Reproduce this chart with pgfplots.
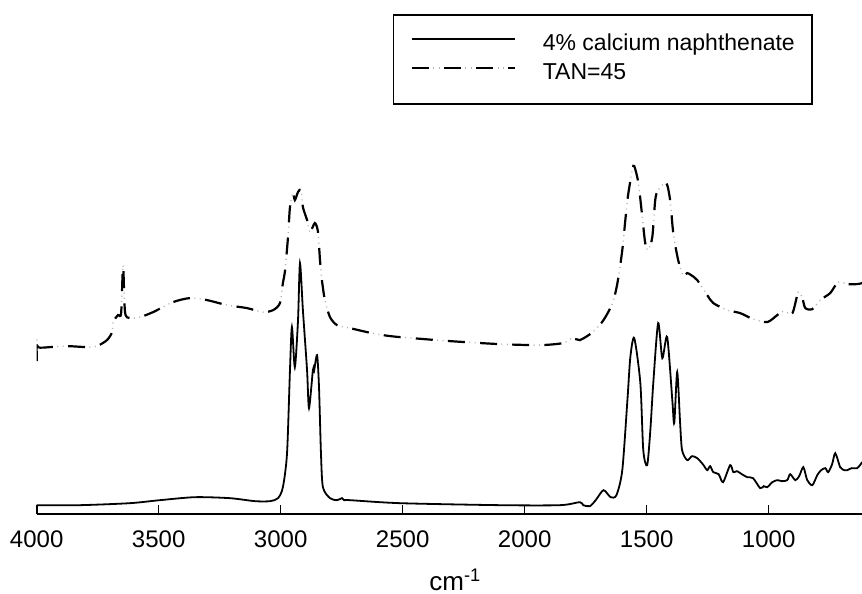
\documentclass[border=0pt]{standalone}
\usepackage{pgfplots}
\pgfplotsset{compat=1.18}
\usepackage{fontspec}
\setmainfont{Liberation Sans}
\begin{document}
\fontsize{11.5pt}{13.8pt}\selectfont
\begin{tikzpicture}
\begin{axis}[
  name=ax,
  scale only axis,
  width=412.5pt, height=257pt,
  x dir=reverse,
  xmin=617.6, xmax=4000,
  ymin=0, ymax=514,
  axis x line*=bottom,
  hide y axis,
  xtick={1000,1500,2000,2500,3000,3500,4000},
  tick align=inside,
  major tick length=4.5pt,
  /pgf/number format/assume math mode=true,
  /pgf/number format/1000 sep={},
  xticklabel style={anchor=base, yshift=-16.5pt, font=\fontsize{12pt}{14pt}\selectfont},
  xlabel={cm\textsuperscript{-1}},
  xlabel style={at={(axis description cs:0.5,0)}, anchor=base, xshift=3pt, yshift=-38pt, font=\fontsize{13pt}{15pt}\selectfont},
  axis line style={line width=0.8pt},
  every tick/.style={line width=0.8pt, black},
  legend style={at={(axis description cs:0.4315,0.9728)}, anchor=north west,
    draw=black, line width=0.8pt, inner xsep=8.5pt, inner ysep=9.5pt,
    column sep=13.5pt, row sep=3.5pt,
    nodes={inner sep=0pt, text height=8.5pt, text depth=2.5pt},
    font=\fontsize{11.5pt}{13.8pt}\selectfont},
  legend cell align=left,
  legend image code/.code={\draw[#1] (0pt,3pt) -- (51.5pt,3pt);},
]
\addplot[black, line width=0.9pt, smooth, tension=0.45] coordinates {
(4000,9) (3823,9) (3618,11) (3495,14) (3351,17) (3208,16) (3105,13) (3044,13)
(3011,16) (2991,27) (2974,61) (2962,144) (2954,187) (2942,147) (2929,194)
(2921,251) (2909,204) (2892,144) (2884,106) (2868,144) (2864,142) (2851,159)
(2843,127) (2835,61) (2827,27) (2798,16) (2769,14) (2749,16) (2740,14) (2716,14)
(2511,11) (2102,9) (1855,9) (1774,12) (1760,9) (1733,8) (1709,14) (1677,24) (1648,17)
(1624,19) (1600,44) (1579,114) (1567,157) (1551,176) (1526,131) (1514,64)
(1498,49) (1485,84) (1473,131) (1453,191) (1436,156) (1416,177) (1395,114)
(1387,91) (1375,142) (1363,91) (1355,64) (1334,54) (1314,58) (1293,56) (1270,50) (1252,44)
(1240,48) (1227,42) (1205,40) (1187,32) (1158,49) (1145,42) (1130,43) (1110,40) (1088,37) (1064,36)
(1035,26) (1020,28) (1006,27) (985,32) (965,34) (945,33) (924,34) (912,40) (891,34) (875,38)
(858,47) (842,34) (821,29) (801,39) (785,44) (768,46) (756,42) (740,50) (727,61)
(707,47) (690,44) (678,44) (660,46) (637,46) (617,52)
};
\addlegendentry{4\% calcium naphthenate}
\addplot[black, line width=1.1pt, smooth, tension=0.45, dash pattern=on 8.5pt off 7.6pt,
  postaction={draw, gray!60, line width=0.7pt, dash pattern=on 0pt off 10.7pt on 0.5pt off 2.2pt on 0.5pt off 2.2pt}]
coordinates {
(4000,153) (4000,177) (3995,167) (3945,167) (3876,168) (3794,167) (3753,168)
(3712,174) (3691,182) (3687,192) (3667,199) (3654,201) (3646,249) (3638,202)
(3618,196) (3577,197) (3523,202) (3441,212) (3372,216) (3302,214) (3220,209)
(3138,206) (3073,202) (3031,204) (3003,211) (2991,231) (2982,244) (2970,277)
(2962,307) (2950,321) (2942,314) (2929,322) (2917,324) (2909,307) (2892,294)
(2880,282) (2860,291) (2847,282) (2839,254) (2831,234) (2819,214) (2798,197)
(2769,189) (2716,186) (2646,182) (2581,179) (2511,177) (2306,173) (2102,170)
(1938,169) (1844,171) (1803,176) (1774,174) (1721,182) (1677,194) (1640,211)
(1620,231) (1600,264) (1579,314) (1559,344) (1551,348) (1534,331) (1518,297)
(1506,271) (1494,264) (1477,277) (1465,314) (1453,324) (1420,331) (1404,314)
(1391,281) (1371,254) (1351,239) (1334,241) (1318,239) (1293,234) (1252,219)
(1227,211) (1170,204) (1117,201) (1064,195) (1006,192) (965,199) (940,203)
(903,201) (879,222) (862,216) (850,206) (821,205) (789,214) (748,221) (715,232)
(678,230) (637,230) (617,231)
};
\addlegendentry{TAN=45}
\end{axis}
\pgfresetboundingbox
\path (ax.south west) ++(-18.35pt,-39.5pt) coordinate (bl);
\path[use as bounding box] (bl) rectangle (ax.north east);
\end{tikzpicture}
\end{document}
